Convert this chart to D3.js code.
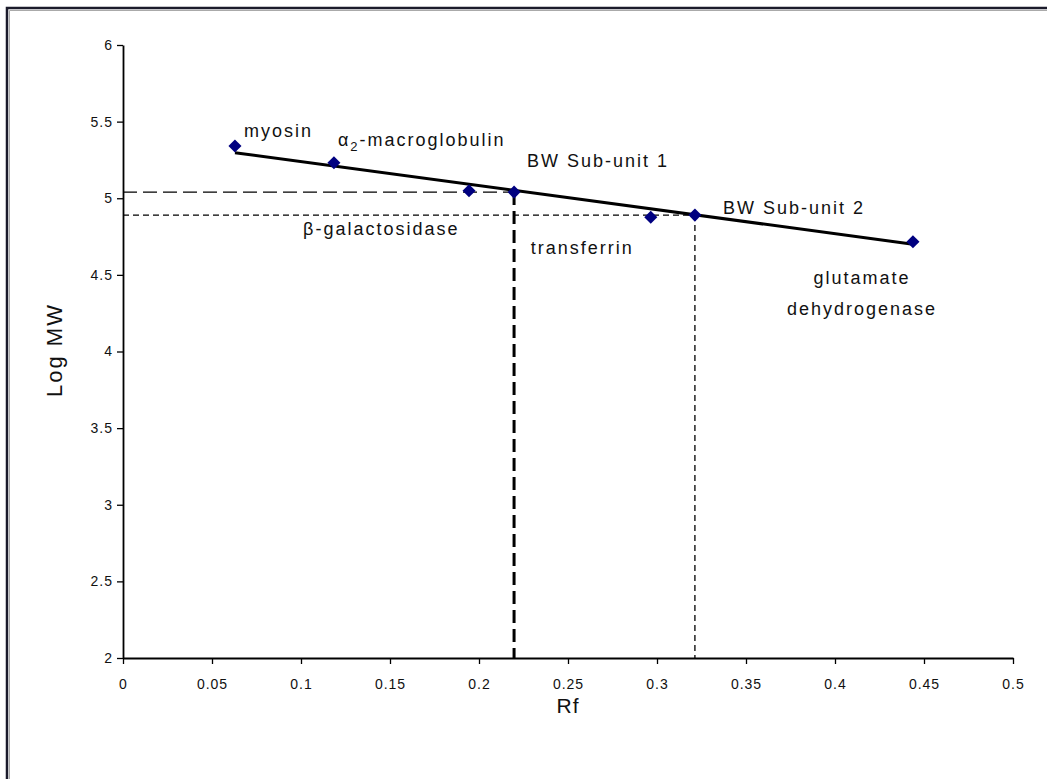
<!DOCTYPE html>
<html>
<head>
<meta charset="utf-8">
<script src="https://cdn.jsdelivr.net/npm/d3@7"></script>
<style>
  body { margin: 0; background: #fff; }
  text { font-family: "Liberation Sans", Arial, sans-serif; fill: #111; }
</style>
</head>
<body>
<svg id="chart" width="1047" height="779"></svg>
<script>
// standard proteins (Rf vs log MW)
var proteins = ['myosin', 'α2-macroglobulin', 'β-galactosidase', 'transferrin', 'glutamate dehydrogenase'];
var proteinRf = [0.0629, 0.1185, 0.1944, 0.2965, 0.4438];
var proteinLogMW = [5.341, 5.232, 5.049, 4.876, 4.716];

// unknown sub-units
var units = ['BW Sub-unit 1', 'BW Sub-unit 2'];
var unitRf = [0.2197, 0.3213];
var unitLogMW = [5.04, 4.89];

// trend line end points
var trendRf = [0.0629, 0.4438];
var trendLogMW = [5.297, 4.70];

// ticks
var xTicks = [0, 0.05, 0.1, 0.15, 0.2, 0.25, 0.3, 0.35, 0.4, 0.45, 0.5];
var yTicks = [2, 2.5, 3, 3.5, 4, 4.5, 5, 5.5, 6];

var svg = d3.select('#chart');

// frame
svg.append('path')
  .attr('d', 'M7,779V8H1047')
  .style('fill', 'none')
  .style('stroke', '#1b1b2b')
  .style('stroke-width', 2.5);
svg.append('path')
  .attr('d', 'M9.5,779V10.5H1047')
  .style('fill', 'none')
  .style('stroke', '#aaa')
  .style('stroke-width', 1);

// scales
var x = d3.scaleLinear().domain([0, 0.5]).range([123, 1013]);
var y = d3.scaleLinear().domain([2, 6]).range([658, 45]);

// axes
var xAxis = svg.append('g')
  .attr('transform', 'translate(0,' + y(2) + ')')
  .call(d3.axisBottom(x).tickValues(xTicks).tickSize(6).tickSizeOuter(0)
    .tickFormat(function(d) { return String(+d.toFixed(2)); }));
var yAxis = svg.append('g')
  .attr('transform', 'translate(' + x(0) + ',0)')
  .call(d3.axisLeft(y).tickValues(yTicks).tickSize(6).tickSizeOuter(0)
    .tickFormat(function(d) { return String(d); }));

[xAxis, yAxis].forEach(function(ax) {
  ax.select('.domain').style('stroke', '#000').style('stroke-width', 1.8);
  ax.selectAll('.tick line').style('stroke', '#000').style('stroke-width', 1.3);
  ax.selectAll('.tick text')
    .style('font-family', '"Liberation Sans", Arial, sans-serif')
    .style('font-size', '14px')
    .style('letter-spacing', '1px')
    .style('fill', '#111');
});
xAxis.selectAll('.tick text').attr('dy', '1.55em');
yAxis.selectAll('.tick text').attr('x', -10);

// axis titles
svg.append('text')
  .attr('x', x(0.25))
  .attr('y', 713)
  .attr('text-anchor', 'middle')
  .style('font-size', '21px')
  .style('letter-spacing', '1px')
  .text('Rf');
svg.append('text')
  .attr('transform', 'translate(62,350) rotate(-90)')
  .attr('text-anchor', 'middle')
  .style('font-size', '22px')
  .style('letter-spacing', '2px')
  .text('Log MW');

// guide lines for the unknowns
function guide(x1, y1, x2, y2, dash, width) {
  svg.append('line')
    .attr('x1', x1).attr('y1', y1)
    .attr('x2', x2).attr('y2', y2)
    .style('stroke', '#000')
    .style('stroke-width', width)
    .style('stroke-dasharray', dash);
}
guide(x(0), y(unitLogMW[0]), x(unitRf[0]), y(unitLogMW[0]), '14,6', 1.3);
guide(x(unitRf[0]), y(unitLogMW[0]), x(unitRf[0]), y(2), '13,6', 3);
guide(x(0), y(unitLogMW[1]), x(unitRf[1]), y(unitLogMW[1]), '6,4', 1.3);
guide(x(unitRf[1]), y(unitLogMW[1]), x(unitRf[1]), y(2), '6,4', 1.3);

// trend line
var line = d3.line()
  .x(function(d) { return x(d[0]); })
  .y(function(d) { return y(d[1]); });
svg.append('path')
  .datum(d3.zip(trendRf, trendLogMW))
  .attr('d', line)
  .style('fill', 'none')
  .style('stroke', '#000')
  .style('stroke-width', 3);

// markers
var points = d3.zip(proteinRf, proteinLogMW).concat(d3.zip(unitRf, unitLogMW));
svg.selectAll('path.marker')
  .data(points)
  .enter()
  .append('path')
  .classed('marker', true)
  .attr('d', d3.symbol().type(d3.symbolSquare).size(85))
  .attr('transform', function(d) {
    return 'translate(' + x(d[0]) + ',' + y(d[1]) + ') rotate(45)';
  })
  .style('fill', '#000080');

// labels, offsets in pixels from each point
var labelStyle = function(t) {
  return t.style('font-size', '18px').style('letter-spacing', '2px');
};
function label(rf, mw, dx, dy, txt, anchor) {
  return labelStyle(svg.append('text')
    .attr('x', x(rf) + dx)
    .attr('y', y(mw) + dy)
    .attr('text-anchor', anchor || 'start')
    .text(txt));
}
label(proteinRf[0], proteinLogMW[0], 9, -9, proteins[0]);

var alpha = labelStyle(svg.append('text')
  .attr('x', x(proteinRf[1]) + 4)
  .attr('y', y(proteinLogMW[1]) - 17));
alpha.append('tspan').text(proteins[1].slice(0, 1));
alpha.append('tspan').attr('dy', 5).style('font-size', '13px').text(proteins[1].slice(1, 2));
alpha.append('tspan').attr('dy', -5).text(proteins[1].slice(2));

label(proteinRf[2], proteinLogMW[2], -166, 44, proteins[2]);
label(proteinRf[3], proteinLogMW[3], -120, 37, proteins[3]);
label(proteinRf[4], proteinLogMW[4], -51, 42, proteins[4].split(' ')[0], 'middle');
label(proteinRf[4], proteinLogMW[4], -51, 73, proteins[4].split(' ')[1], 'middle');
label(unitRf[0], unitLogMW[0], 13, -25, units[0]);
label(unitRf[1], unitLogMW[1], 28, -1, units[1]);
</script>
</body>
</html>
